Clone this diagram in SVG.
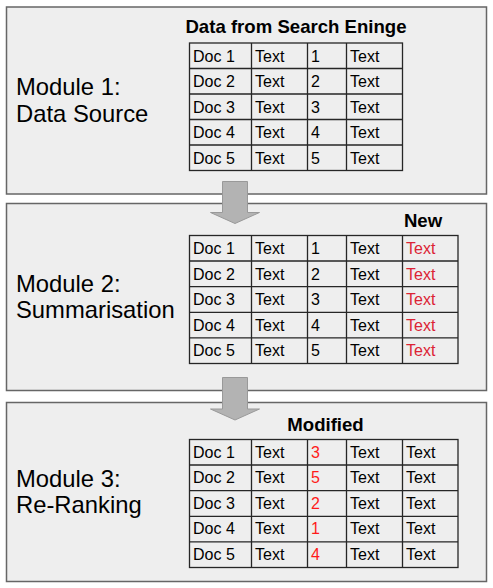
<svg xmlns="http://www.w3.org/2000/svg" width="493" height="588" viewBox="0 0 493 588">
<style>
.mod{fill:#eeeeee;stroke:#666666;stroke-width:1.5}
.lbl{font-family:"Liberation Sans",Arial,sans-serif;font-size:23.8px;fill:#000}
.ttl{font-family:"Liberation Sans",Arial,sans-serif;font-size:18.6px;font-weight:bold;fill:#000}
.cell{fill:none;stroke:#262626;stroke-width:1.3}
.t{font-family:"Liberation Sans",Arial,sans-serif;font-size:16px;fill:#000}
.rt{fill:#dc2335}
.rn{fill:#ff1a1a}
.arr{fill:#b3b3b3;stroke:#999999;stroke-width:1}
</style>
<rect width="493" height="588" fill="#ffffff"/>
<g id="module1">
<rect class="mod" x="6.5" y="7" width="480" height="187"/>
<text class="lbl" x="16" y="95">Module 1:</text>
<text class="lbl" x="16" y="121.5">Data Source</text>
<text class="ttl" x="296" y="33" text-anchor="middle">Data from Search Eninge</text>
<g id="table1">
<rect class="cell" x="189.5" y="43" width="213" height="127.5"/>
<path class="cell" d="M189.5 68.5H402.5M189.5 94H402.5M189.5 119.5H402.5M189.5 145H402.5M251.5 43V170.5M307.5 43V170.5M346.5 43V170.5"/>
<g class="t">
<text x="193" y="61.5">Doc 1</text><text x="255" y="61.5">Text</text><text x="311" y="61.5">1</text><text x="350" y="61.5">Text</text>
<text x="193" y="87">Doc 2</text><text x="255" y="87">Text</text><text x="311" y="87">2</text><text x="350" y="87">Text</text>
<text x="193" y="112.5">Doc 3</text><text x="255" y="112.5">Text</text><text x="311" y="112.5">3</text><text x="350" y="112.5">Text</text>
<text x="193" y="138">Doc 4</text><text x="255" y="138">Text</text><text x="311" y="138">4</text><text x="350" y="138">Text</text>
<text x="193" y="163.5">Doc 5</text><text x="255" y="163.5">Text</text><text x="311" y="163.5">5</text><text x="350" y="163.5">Text</text>
</g>
</g>
</g>
<g id="module2">
<rect class="mod" x="6.5" y="203.5" width="480" height="187"/>
<text class="lbl" x="16" y="291.5">Module 2:</text>
<text class="lbl" x="16" y="317.5">Summarisation</text>
<text class="ttl" x="423" y="226.5" text-anchor="middle">New</text>
<g id="table2">
<rect class="cell" x="189.5" y="235.5" width="268.5" height="128"/>
<path class="cell" d="M189.5 261H458M189.5 286.7H458M189.5 312.3H458M189.5 337.8H458M251.5 235.5V363.5M307.5 235.5V363.5M346.5 235.5V363.5M402.5 235.5V363.5"/>
<g class="t">
<text x="193" y="254">Doc 1</text><text x="255" y="254">Text</text><text x="311" y="254">1</text><text x="350" y="254">Text</text><text class="rt" x="406" y="254">Text</text>
<text x="193" y="279.5">Doc 2</text><text x="255" y="279.5">Text</text><text x="311" y="279.5">2</text><text x="350" y="279.5">Text</text><text class="rt" x="406" y="279.5">Text</text>
<text x="193" y="305.2">Doc 3</text><text x="255" y="305.2">Text</text><text x="311" y="305.2">3</text><text x="350" y="305.2">Text</text><text class="rt" x="406" y="305.2">Text</text>
<text x="193" y="330.8">Doc 4</text><text x="255" y="330.8">Text</text><text x="311" y="330.8">4</text><text x="350" y="330.8">Text</text><text class="rt" x="406" y="330.8">Text</text>
<text x="193" y="356.3">Doc 5</text><text x="255" y="356.3">Text</text><text x="311" y="356.3">5</text><text x="350" y="356.3">Text</text><text class="rt" x="406" y="356.3">Text</text>
</g>
</g>
</g>
<g id="module3">
<rect class="mod" x="6.5" y="402.5" width="480" height="179"/>
<text class="lbl" x="16" y="486.5">Module 3:</text>
<text class="lbl" x="16" y="512.5">Re-Ranking</text>
<text class="ttl" x="325.5" y="431" text-anchor="middle">Modified</text>
<g id="table3">
<rect class="cell" x="189.5" y="439.5" width="268.5" height="128"/>
<path class="cell" d="M189.5 465H458M189.5 490.7H458M189.5 516.3H458M189.5 541.8H458M251.5 439.5V567.5M307.5 439.5V567.5M346.5 439.5V567.5M402.5 439.5V567.5"/>
<g class="t">
<text x="193" y="457.5">Doc 1</text><text x="255" y="457.5">Text</text><text class="rn" x="311" y="457.5">3</text><text x="350" y="457.5">Text</text><text x="406" y="457.5">Text</text>
<text x="193" y="483">Doc 2</text><text x="255" y="483">Text</text><text class="rn" x="311" y="483">5</text><text x="350" y="483">Text</text><text x="406" y="483">Text</text>
<text x="193" y="508.7">Doc 3</text><text x="255" y="508.7">Text</text><text class="rn" x="311" y="508.7">2</text><text x="350" y="508.7">Text</text><text x="406" y="508.7">Text</text>
<text x="193" y="534.3">Doc 4</text><text x="255" y="534.3">Text</text><text class="rn" x="311" y="534.3">1</text><text x="350" y="534.3">Text</text><text x="406" y="534.3">Text</text>
<text x="193" y="559.8">Doc 5</text><text x="255" y="559.8">Text</text><text class="rn" x="311" y="559.8">4</text><text x="350" y="559.8">Text</text><text x="406" y="559.8">Text</text>
</g>
</g>
</g>
<g id="connectors">
<path class="arr" d="M222.5 181.5H247.5V212.5H259.5L235 223.5L210.5 212.5H222.5Z"/>
<path class="arr" d="M222.5 377.5H247.5V409H259.5L235 420L210.5 409H222.5Z"/>
</g>
</svg>
